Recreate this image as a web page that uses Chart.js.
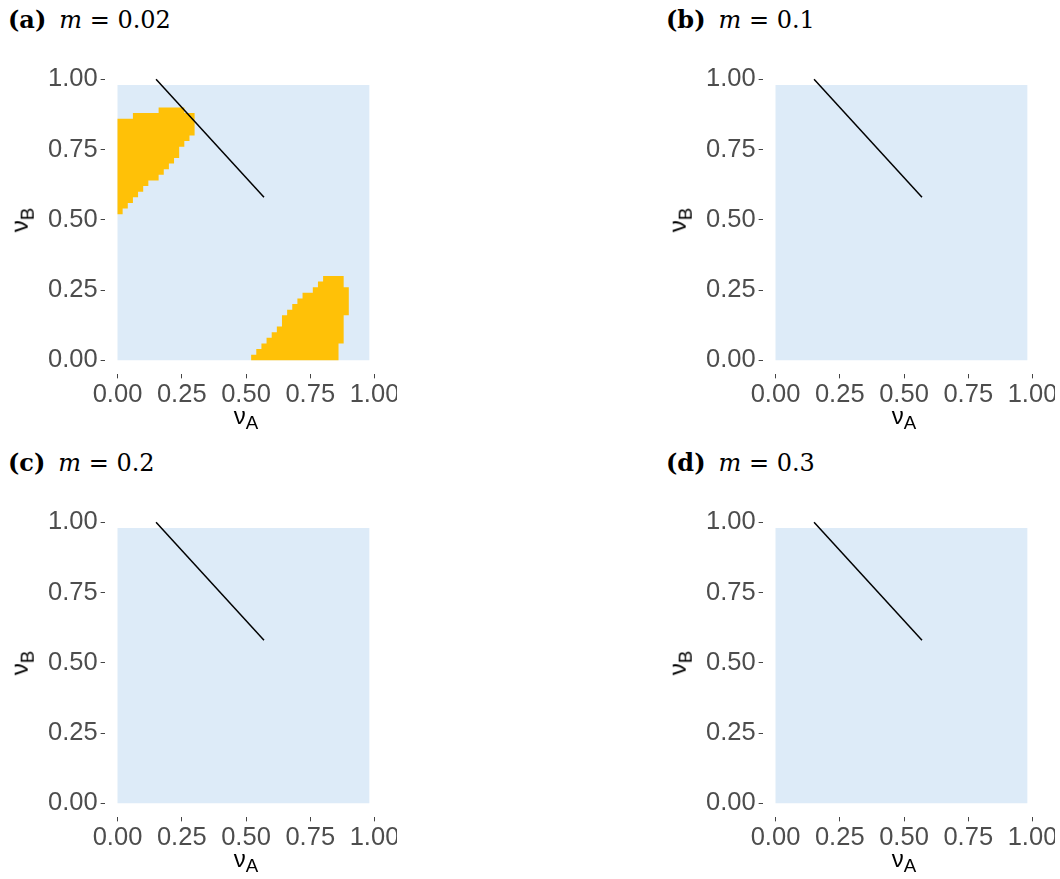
<!DOCTYPE html>
<html>
<head>
<meta charset="utf-8">
<script src="https://cdn.jsdelivr.net/npm/chart.js@4.4.1/dist/chart.umd.min.js"></script>
<style>
  body { margin: 0; background: #fff; width: 1060px; height: 879px; overflow: hidden; position: relative; }
  .panel { position: absolute; width: 397px; height: 443px; overflow: hidden; }
  .panel canvas { position: absolute; left: 0; top: 40px; }
  .ttl { position: absolute; left: 8px; top: 5px; font-family: "DejaVu Serif"; font-size: 24px; white-space: nowrap; color: #000; }
  .ttl i { margin-left: 13px; }
  .ax { position: absolute; font-family: "Liberation Sans"; font-size: 24px; color: #000; white-space: nowrap; }
  .ax sub { font-size: 0.78em; vertical-align: -0.3em; }
  .xt { left: 246px; top: 418px; transform: translate(-50%, -50%); }
  .yt { left: 22px; top: 220px; transform: translate(-50%, -50%) rotate(-90deg); }
</style>
</head>
<body>
<script>
const panelIds = ["a", "b", "c", "d"];
const mValues = ["0.02", "0.1", "0.2", "0.3"];
const tickValues = [0, 0.25, 0.5, 0.75, 1];
const tickLabels = ["0.00", "0.25", "0.50", "0.75", "1.00"];
const cellSize = 0.02;
const gridMin = 0;
const gridMax = 0.98;
const lineA = [0.15, 0.57];
const lineB = [1.0, 0.58];

// panel (a): yellow cells, one raster row each (row bottom, left, right)
const upperRowB = [0.88, 0.86, 0.84, 0.82, 0.80, 0.78, 0.76, 0.74, 0.72, 0.70, 0.68, 0.66, 0.64, 0.62, 0.60, 0.58, 0.56, 0.54, 0.52];
const upperRowA0 = [0.16, 0.06, 0, 0, 0, 0, 0, 0, 0, 0, 0, 0, 0, 0, 0, 0, 0, 0, 0];
const upperRowA1 = [0.26, 0.30, 0.30, 0.30, 0.30, 0.28, 0.26, 0.24, 0.24, 0.22, 0.20, 0.18, 0.16, 0.12, 0.10, 0.08, 0.06, 0.04, 0.02];
const lowerRowB = [0.28, 0.26, 0.24, 0.22, 0.20, 0.18, 0.16, 0.14, 0.12, 0.10, 0.08, 0.06, 0.04, 0.02, 0.00];
const lowerRowA0 = [0.80, 0.78, 0.76, 0.72, 0.70, 0.68, 0.66, 0.64, 0.64, 0.62, 0.60, 0.58, 0.56, 0.54, 0.52];
const lowerRowA1 = [0.88, 0.88, 0.90, 0.90, 0.90, 0.90, 0.90, 0.88, 0.88, 0.88, 0.88, 0.88, 0.86, 0.86, 0.86];

const blue = "#DDEBF8";
const yellow = "#FFC107";

function rows(bs, a0, a1) {
  return bs.map((b, i) => ({ y: b, x0: a0[i], x1: a1[i] }));
}
const yellowRows = [
  rows(upperRowB, upperRowA0, upperRowA1).concat(rows(lowerRowB, lowerRowA0, lowerRowA1)),
  [], [], [],
];

const rasterPlugin = {
  id: "raster",
  beforeDatasetsDraw(chart) {
    const { ctx, scales: { x, y } } = chart;
    const fillRows = (list, color) => {
      if (!list.length) return;
      ctx.beginPath();
      list.forEach((r) => {
        const l = x.getPixelForValue(r.x0);
        const rt = x.getPixelForValue(r.x1);
        const t = y.getPixelForValue(r.y + r.h);
        const b = y.getPixelForValue(r.y);
        ctx.rect(l, t, rt - l, b - t);
      });
      ctx.fillStyle = color;
      ctx.fill();
    };
    ctx.save();
    fillRows([{ x0: gridMin, x1: gridMax, y: gridMin, h: gridMax - gridMin }], blue);
    fillRows(chart.options.plugins.raster.rows.map((r) => ({ ...r, h: cellSize })), yellow);
    ctx.restore();
  },
};

const tickFont = { family: "Liberation Sans", size: 25.5 };
function axis(isX) {
  return {
    type: "linear",
    min: -0.05,
    max: 1.05,
    afterBuildTicks: (s) => { s.ticks = tickValues.map((v) => ({ value: v })); },
    afterFit: (s) => { if (isX) s.height = 45.65; else s.width = 104.65; },
    ticks: {
      callback: (v, i) => tickLabels[i],
      font: tickFont,
      color: "#4D4D4D",
      padding: isX ? 1 : 3,
      maxRotation: 0,
      autoSkip: false,
    },
    grid: { drawOnChartArea: false, tickLength: 4, tickColor: "#444", tickWidth: 1 },
    border: { display: false },
  };
}

panelIds.forEach((id, k) => {
  const div = document.createElement("div");
  div.className = "panel";
  div.style.left = (k % 2) * 658 + "px";
  div.style.top = Math.floor(k / 2) * 443 + "px";
  div.innerHTML =
    `<div class="ttl"><b>(${id})</b><i>m</i> = ${mValues[k]}</div>` +
    `<canvas width="440" height="380"></canvas>` +
    `<div class="ax xt">ν<sub>A</sub></div>` +
    `<div class="ax yt">ν<sub>B</sub></div>`;
  document.body.appendChild(div);
  new Chart(div.querySelector("canvas"), {
    type: "scatter",
    data: {
      datasets: [{
        data: lineA.map((a, i) => ({ x: a, y: lineB[i] })),
        showLine: true,
        borderColor: "#000",
        borderWidth: 1.5,
        pointRadius: 0,
        clip: false,
      }],
    },
    options: {
      responsive: false,
      animation: false,
      layout: { padding: { top: 25.25, right: 52.65, left: 0, bottom: 0 } },
      plugins: {
        legend: { display: false },
        tooltip: { enabled: false },
        raster: { rows: yellowRows[k] },
      },
      scales: { x: axis(true), y: axis(false) },
    },
    plugins: [rasterPlugin],
  });
});
</script>
</body>
</html>
